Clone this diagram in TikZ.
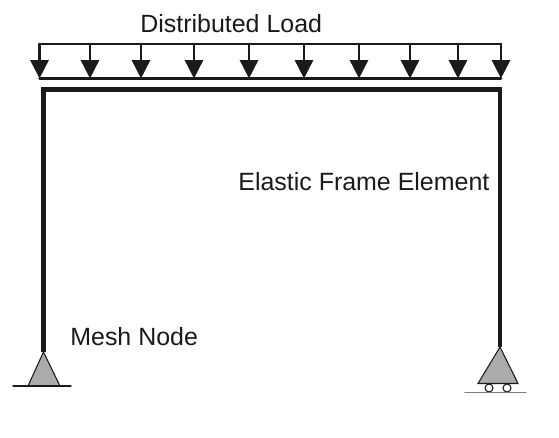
\documentclass[tikz,border=0pt]{standalone}
\usepackage{fontspec, tkz-euclide}
\setmainfont{Liberation Sans}
\usetikzlibrary{arrows.meta}
\definecolor{inkblack}{HTML}{1A1A1A}
\definecolor{supportgray}{HTML}{ABABAB}
\tikzset{>=stealth,
  rail/.style={line width=1.5pt, color=inkblack},
  loadarrow/.style={line width=1.5pt, color=inkblack, -{Triangle[length=10.4pt,width=10.2pt]}},
  frame/.style={line width=2.4pt, color=inkblack, line join=miter},
  support/.style={line width=0.6pt, color=inkblack, fill=supportgray},
  ground/.style={line width=0.6pt, color=inkblack},
  caption/.style={font=\fontsize{14.2}{17}\selectfont, color=inkblack, inner sep=0pt, anchor=base west}}
\begin{document}
\begin{tikzpicture}
\useasboundingbox (0,0) rectangle (11.18,8.76);
\tkzDefPoints{0.79/7.88/A, 10.02/7.88/B, 0.79/7.19/C, 10.02/7.19/D}
\tkzDefPoints{0.87/1.72/E, 0.87/6.97/F, 10/6.97/G, 10/1.82/H}
\tkzDefPoints{0.56/1.04/L1, 1.2/1.04/L2, 0.26/1.04/L3, 1.42/1.04/L4}
\tkzDefPoints{9.56/1.09/R1, 10.36/1.09/R2, 9.78/1/W1, 10.14/1/W2, 9.3/0.906/R3, 10.52/0.906/R4}
% load
\tkzDrawSegments[rail](A,B C,D)
\foreach \x in {0.79, 1.8, 2.82, 3.88, 4.98, 6.08, 7.18, 8.2, 9.16, 10.02}{
  \tkzDefPoint(\x,7.88){P}
  \tkzDefPoint(\x,7.19){Q}
  \tkzDrawSegment[loadarrow](P,Q)
}
% frame
\draw[frame] (E) -- (F) -- (G) -- (H);
% supports
\draw[support] (E) -- (L1) -- (L2) -- cycle;
\tkzDrawSegment[ground](L3,L4)
\draw[support] (H) -- (R1) -- (R2) -- cycle;
\draw[ground, fill=white] (W1) circle (0.08);
\draw[ground, fill=white] (W2) circle (0.08);
\tkzDrawSegment[ground, line width=0.8pt, color=gray](R3,R4)
% labels
\node[caption] (loadtext) at (2.8,8.1) {Distributed Load};
\node[caption] (frametext) at (4.76,4.95) {Elastic Frame Element};
\node[caption] (meshtext) at (1.4,1.85) {Mesh Node};
\end{tikzpicture}
\end{document}
